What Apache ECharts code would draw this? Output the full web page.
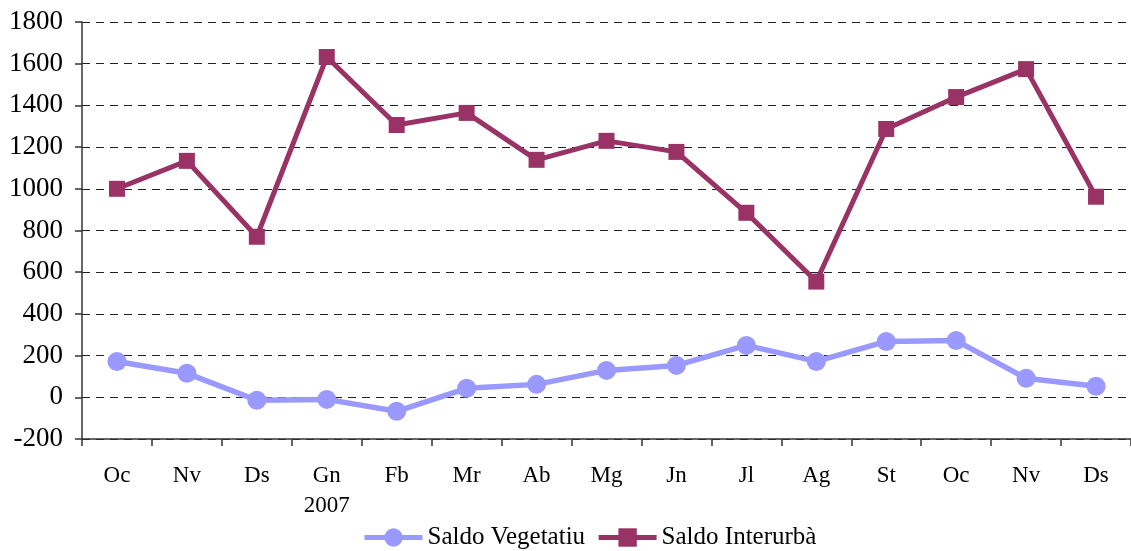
<!DOCTYPE html>
<html>
<head>
<meta charset="utf-8">
<script src="https://cdn.jsdelivr.net/npm/echarts@6/dist/echarts.min.js"></script>
<style>
  html, body { margin: 0; padding: 0; background: #fff; }
  #chart { width: 1131px; height: 551px; }
</style>
</head>
<body>
<div id="chart"></div>
<script>
const months = ['Oc', 'Nv', 'Ds', 'Gn\n2007', 'Fb', 'Mr', 'Ab', 'Mg', 'Jn', 'Jl', 'Ag', 'St', 'Oc', 'Nv', 'Ds']
const saldoVegetatiu = [172, 115, -14, -10, -67, 43, 62, 129, 153, 249, 172, 268, 272, 91, 53]
const saldoInterurba = [1000, 1134, 770, 1632, 1306, 1364, 1139, 1230, 1177, 885, 555, 1287, 1440, 1574, 962]
const yTicks = { min: -200, max: 1800, interval: 200 }

const font = '"Liberation Serif", "Times New Roman", serif'
const chart = echarts.init(document.getElementById('chart'))

chart.setOption({
  animation: false,
  textStyle: { fontFamily: font, color: '#000' },
  grid: {
    left: 82,
    top: 22,
    width: 1057,
    height: 417
  },
  legend: {
    left: 357,
    top: 520,
    itemWidth: 58,
    itemHeight: 23,
    itemGap: 11,
    lineStyle: { width: 5 },
    textStyle: { fontFamily: font, fontSize: 25, color: '#000' },
    data: ['Saldo Vegetatiu', 'Saldo Interurbà']
  },
  xAxis: {
    type: 'category',
    data: months,
    boundaryGap: true,
    axisLine: { onZero: false, lineStyle: { color: '#333', width: 1.5 } },
    axisTick: { show: true, length: 7, lineStyle: { color: '#333', width: 1.5 } },
    axisLabel: {
      margin: 22,
      fontFamily: font,
      fontSize: 23,
      color: '#000',
      lineHeight: 30,
      interval: 0
    },
    splitLine: { show: false }
  },
  yAxis: {
    type: 'value',
    min: yTicks.min,
    max: yTicks.max,
    interval: yTicks.interval,
    axisLine: { show: true, lineStyle: { color: '#333', width: 1.5 } },
    axisTick: { show: true, length: 7, lineStyle: { color: '#333', width: 1.5 } },
    axisLabel: {
      margin: 19,
      fontFamily: font,
      fontSize: 27,
      color: '#000',
      formatter: v => String(v)
    },
    splitLine: {
      show: true,
      lineStyle: { color: '#222', width: 1, type: [8, 6] }
    }
  },
  series: [
    {
      name: 'Saldo Vegetatiu',
      type: 'line',
      data: saldoVegetatiu,
      symbol: 'circle',
      symbolSize: 19,
      lineStyle: { color: '#9999FF', width: 5.5 },
      itemStyle: { color: '#9999FF' }
    },
    {
      name: 'Saldo Interurbà',
      type: 'line',
      data: saldoInterurba,
      symbol: 'rect',
      symbolSize: 16,
      lineStyle: { color: '#993366', width: 5 },
      itemStyle: { color: '#993366' }
    }
  ]
})
</script>
</body>
</html>
